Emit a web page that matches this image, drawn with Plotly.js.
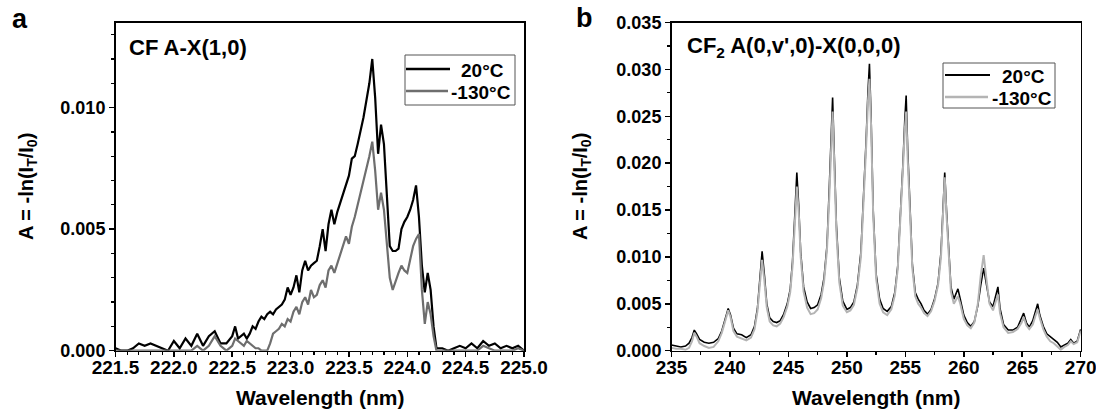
<!DOCTYPE html>
<html>
<head>
<meta charset="utf-8">
<script src="https://cdn.plot.ly/plotly-3.0.1.min.js"></script>
<style>html,body{margin:0;padding:0;background:#fff}#chart{width:1096px;height:416px}</style>
</head>
<body>
<div id="chart"></div>
<script>
// ---------- Panel a: CF A-X(1,0) ----------
const xA = [
221.50,221.55,221.60,221.65,221.70,221.75,221.80,221.85,221.90,221.95,
222.00,222.05,222.10,222.15,222.20,222.25,222.30,222.35,222.40,222.45,
222.50,222.525,222.55,222.60,222.625,222.65,222.675,222.70,222.725,222.75,
222.775,222.80,222.825,222.85,222.875,222.90,222.925,222.95,222.975,223.00,
223.025,223.05,223.075,223.10,223.125,223.15,223.175,223.20,223.225,223.25,
223.275,223.30,223.325,223.35,223.375,223.40,223.425,223.45,223.475,223.50,
223.525,223.55,223.575,223.60,223.625,223.65,223.675,223.70,223.725,223.75,
223.775,223.80,223.825,223.85,223.875,223.90,223.925,223.95,223.975,224.00,
224.025,224.05,224.075,224.10,224.125,224.15,224.175,224.20,224.225,224.25,
224.30,224.35,224.40,224.45,224.50,224.55,224.60,224.65,224.70,224.75,
224.80,224.85,224.90,224.95,225.00];
const a20 = [
0.0001,0,0,0.0001,0.0003,0.0002,0.0003,0.0002,0.0001,0,
0.0004,0.0001,0.0005,0.0002,0.0007,0.0002,0.0006,0.0008,0.0003,0.0003,
0.0006,0.0010,0.0005,0.0007,0.0005,0.0007,0.0010,0.0009,0.0012,0.0014,
0.0013,0.0015,0.0016,0.0015,0.0017,0.0018,0.0019,0.0021,0.0026,0.0023,
0.0026,0.0031,0.0024,0.0033,0.0037,0.0033,0.0035,0.0036,0.0037,0.0043,
0.0050,0.0041,0.0052,0.0058,0.0052,0.0057,0.0061,0.0065,0.0069,0.0072,
0.0079,0.0080,0.0085,0.0090,0.0096,0.0103,0.0110,0.0120,0.0104,0.0081,
0.0093,0.0085,0.0062,0.0043,0.0041,0.0041,0.0042,0.0050,0.0053,0.0055,
0.0058,0.0062,0.0068,0.0055,0.0035,0.0024,0.0032,0.0025,0.0010,0.0001,
0.0001,0,0.0001,0.0002,0.0001,0.0003,0.0001,0.0004,0.0002,0.0003,
0.0001,0.0002,0.0001,0.0002,0];
const a130 = [
0,0,0,0,0,0,0,0,0,0,
0,0,0,0,0.0002,0,0.0002,0.0006,0.0002,0,
0.0002,0.0005,0.0004,0.0002,0.0004,0.0003,0.0002,0.0001,0.0001,0,
0,0,0.0003,0.0007,0.0008,0.0009,0.0011,0.0010,0.0013,0.0012,
0.0016,0.0018,0.0015,0.0020,0.0022,0.0019,0.0025,0.0022,0.0023,0.0027,
0.0029,0.0026,0.0033,0.0035,0.0032,0.0036,0.0039,0.0043,0.0047,0.0044,
0.0051,0.0055,0.0060,0.0064,0.0070,0.0075,0.0080,0.0086,0.0074,0.0058,
0.0065,0.0058,0.0045,0.0030,0.0025,0.0029,0.0032,0.0035,0.0033,0.0032,
0.0038,0.0043,0.0046,0.0048,0.0025,0.0011,0.0020,0.0015,0.0006,0,
0,0,0,0,0,0,0,0.0002,0.0001,0,
0,0,0,0.0001,0];

// ---------- Panel b: CF2 A(0,v',0)-X(0,0,0) ----------
const xB = [
235.0,235.4,235.8,236.2,236.5,236.75,236.95,237.15,237.4,237.8,
238.2,238.6,239.0,239.3,239.6,239.85,240.05,240.3,240.6,241.0,
241.4,241.8,242.1,242.35,242.55,242.75,242.95,243.15,243.4,243.7,
244.0,244.3,244.6,244.9,245.15,245.35,245.55,245.72,245.88,246.05,
246.3,246.6,246.9,247.2,247.5,247.8,248.05,248.3,248.5,248.65,
248.78,248.92,249.1,249.35,249.65,250.0,250.3,250.6,250.9,251.2,
251.45,251.65,251.8,251.93,252.07,252.25,252.5,252.8,253.1,253.45,
253.8,254.1,254.35,254.6,254.8,254.95,255.07,255.2,255.38,255.6,
255.85,256.1,256.35,256.6,256.9,257.2,257.5,257.8,258.05,258.22,
258.37,258.52,258.7,258.9,259.15,259.35,259.5,259.7,260.0,260.3,
260.6,260.9,261.2,261.45,261.7,261.95,262.2,262.5,262.75,262.92,
263.1,263.4,263.8,264.2,264.6,264.95,265.12,265.35,265.6,265.9,
266.15,266.32,266.5,266.8,267.1,267.4,267.7,268.0,268.3,268.6,
268.9,269.15,269.4,269.7,269.9,270.0];
const b20 = [
0.0006,0.0005,0.0004,0.0005,0.0008,0.0014,0.0022,0.0018,0.0012,0.0009,
0.0008,0.0009,0.0013,0.0021,0.0034,0.0045,0.0038,0.0024,0.0018,0.0017,
0.0014,0.0017,0.0026,0.0045,0.0075,0.0106,0.0080,0.0050,0.0035,0.0031,
0.0030,0.0032,0.0039,0.0050,0.0065,0.0095,0.0145,0.0190,0.0155,0.0105,
0.0068,0.0052,0.0045,0.0046,0.0049,0.0060,0.0078,0.0112,0.0175,0.0230,
0.0270,0.0210,0.0135,0.0078,0.0053,0.0044,0.0046,0.0052,0.0070,0.0105,
0.0165,0.0225,0.0275,0.0306,0.0250,0.0150,0.0082,0.0055,0.0045,0.0042,
0.0047,0.0062,0.0090,0.0145,0.0200,0.0245,0.0272,0.0215,0.0150,0.0092,
0.0062,0.0055,0.0050,0.0043,0.0039,0.0044,0.0055,0.0072,0.0105,0.0155,
0.0190,0.0150,0.0105,0.0068,0.0055,0.0062,0.0066,0.0055,0.0038,0.0030,
0.0026,0.0031,0.0048,0.0070,0.0088,0.0070,0.0052,0.0047,0.0058,0.0068,
0.0045,0.0028,0.0022,0.0022,0.0025,0.0034,0.0040,0.0030,0.0025,0.0032,
0.0043,0.0050,0.0038,0.0026,0.0018,0.0015,0.0013,0.0009,0.0004,0.0006,
0.0008,0.0012,0.0008,0.0010,0.0018,0.0023];
const b130 = [
0.0003,0.0002,0.0002,0.0001,0.0003,0.0010,0.0019,0.0015,0.0008,0.0005,
0.0003,0.0004,0.0010,0.0019,0.0032,0.0043,0.0036,0.0021,0.0015,0.0013,
0.0011,0.0014,0.0023,0.0042,0.0070,0.0097,0.0074,0.0046,0.0031,0.0027,
0.0026,0.0029,0.0036,0.0047,0.0062,0.0090,0.0135,0.0175,0.0148,0.0100,
0.0063,0.0046,0.0039,0.0040,0.0044,0.0056,0.0074,0.0108,0.0165,0.0220,
0.0255,0.0200,0.0128,0.0073,0.0048,0.0041,0.0043,0.0049,0.0067,0.0100,
0.0158,0.0218,0.0265,0.0290,0.0240,0.0145,0.0077,0.0050,0.0041,0.0038,
0.0044,0.0059,0.0087,0.0140,0.0195,0.0235,0.0255,0.0205,0.0145,0.0088,
0.0058,0.0050,0.0046,0.0040,0.0037,0.0042,0.0053,0.0070,0.0100,0.0150,
0.0185,0.0145,0.0100,0.0063,0.0050,0.0055,0.0058,0.0050,0.0034,0.0027,
0.0024,0.0030,0.0050,0.0080,0.0102,0.0075,0.0050,0.0043,0.0052,0.0060,
0.0040,0.0025,0.0019,0.0020,0.0023,0.0030,0.0036,0.0027,0.0023,0.0028,
0.0038,0.0044,0.0035,0.0023,0.0015,0.0010,0.0008,0.0005,0.0001,0.0004,
0.0006,0.0010,0.0007,0.0009,0.0016,0.0021];

const seriesNames = ['20°C', '-130°C'];
const panelTitles = ['CF A-X(1,0)', 'CF<sub>2</sub> A(0,v\',0)-X(0,0,0)'];
const panelLetters = ['a', 'b'];
const xTitle = 'Wavelength (nm)';
const yTitle = 'A = -ln(I<sub>T</sub>/I<sub>0</sub>)';

const W = 1096, H = 416;
const FONT = 'Liberation Sans, Arial, sans-serif';
const px = v => v / W, py = v => 1 - v / H;

const colA = ['#000000', '#6e6e6e'];
const colB = ['#000000', '#b4b4b4'];
const widA = [2.2, 2.2];
const widB = [1.6, 2.0];

const traces = [
  {x: xA, y: a20, name: seriesNames[0], type: 'scatter', mode: 'lines', xaxis: 'x', yaxis: 'y', showlegend: false,
   line: {color: colA[0], width: widA[0]}},
  {x: xA, y: a130, name: seriesNames[1], type: 'scatter', mode: 'lines', xaxis: 'x', yaxis: 'y', showlegend: false,
   line: {color: colA[1], width: widA[1]}},
  {x: xB, y: b20, name: seriesNames[0], type: 'scatter', mode: 'lines', xaxis: 'x2', yaxis: 'y2', showlegend: false,
   line: {color: colB[0], width: widB[0]}},
  {x: xB, y: b130, name: seriesNames[1], type: 'scatter', mode: 'lines', xaxis: 'x2', yaxis: 'y2', showlegend: false,
   line: {color: colB[1], width: widB[1]}}
];

const xTickFont = {family: FONT, size: 19, color: '#000', weight: 'bold'};
const yTickFont = {family: FONT, size: 18, color: '#000', weight: 'bold'};
const domA = [px(115.5), px(524)];
const domB = [px(671.5), px(1080.7)];
const domY = [py(350.7), py(22.5)];

function baseAxis(extra) {
  return Object.assign({
    showgrid: false, zeroline: false, showline: true, linecolor: '#000', linewidth: 1.5,
    mirror: true, ticks: 'outside', ticklen: 5, tickwidth: 1.5, tickcolor: '#000', fixedrange: true,
    ticklabeloverflow: 'allow'
  }, extra);
}
function mirrorAxis(extra) {
  return Object.assign({
    showgrid: false, zeroline: false, showline: false, ticks: 'inside', ticklen: 5, tickwidth: 1.5,
    tickcolor: '#000', showticklabels: false, fixedrange: true
  }, extra);
}
const minorOut = d => ({dtick: d, ticks: 'outside', ticklen: 3, tickwidth: 1.2, tickcolor: '#000'});
const minorIn = d => ({dtick: d, ticks: 'inside', ticklen: 3, tickwidth: 1.2, tickcolor: '#000'});

// manual legend boxes (pixel geometry -> paper)
function legendParts(box, rows, cols, widths) {
  const shapes = [{type: 'rect', xref: 'paper', yref: 'paper', layer: 'above',
    x0: px(box.x0), x1: px(box.x1), y0: py(box.y1), y1: py(box.y0),
    line: {color: '#555', width: 1}, fillcolor: '#fff'}];
  const anns = [];
  rows.forEach((r, i) => {
    shapes.push({type: 'line', xref: 'paper', yref: 'paper', layer: 'above',
      x0: px(r.l0), x1: px(r.l1), y0: py(r.y), y1: py(r.y), line: {color: cols[i], width: widths[i] + 0.4}});
    anns.push({text: seriesNames[i], xref: 'paper', yref: 'paper', x: px(r.tx), y: py(r.y + 1),
      xanchor: 'right', yanchor: 'middle', showarrow: false,
      font: {family: FONT, size: 19, color: '#000', weight: 'bold'}});
  });
  return {shapes, anns};
}
const legA = legendParts({x0: 405, x1: 515, y0: 55, y1: 105},
  [{l0: 406, l1: 450, y: 69, tx: 506}, {l0: 406, l1: 448, y: 91, tx: 513}], colA, widA);
const legB = legendParts({x0: 943, x1: 1055, y0: 63, y1: 108},
  [{l0: 945, l1: 990, y: 75, tx: 1047}, {l0: 945, l1: 988, y: 97, tx: 1054}], colB, widB);

const textAnn = (text, x, y, size, extra) => Object.assign({text, xref: 'paper', yref: 'paper', x: px(x), y: py(y),
  xanchor: 'center', yanchor: 'middle', showarrow: false, font: {family: FONT, size, color: '#000', weight: 'bold'}}, extra || {});

const layout = {
  width: W, height: H,
  margin: {l: 0, r: 0, t: 0, b: 0},
  paper_bgcolor: '#fff', plot_bgcolor: '#fff',
  font: {family: FONT, color: '#000'},
  showlegend: false,
  xaxis: baseAxis({domain: domA, anchor: 'y', range: [221.5, 225], tick0: 221.5, dtick: 0.5, tickformat: '.1f',
    tickfont: xTickFont, ticklabelstandoff: -6, minor: minorOut(0.1)}),
  yaxis: baseAxis({domain: domY, anchor: 'x', range: [0, 0.0135], tick0: 0, dtick: 0.005, tickformat: '.3f',
    tickfont: yTickFont, minor: minorOut(0.001)}),
  xaxis3: mirrorAxis({overlaying: 'x', anchor: 'y', side: 'top', range: [221.5, 225], tick0: 221.5, dtick: 0.5,
    minor: minorIn(0.1)}),
  yaxis3: mirrorAxis({overlaying: 'y', anchor: 'x', side: 'right', range: [0, 0.0135], tick0: 0, dtick: 0.005,
    minor: minorIn(0.001)}),
  xaxis2: baseAxis({domain: domB, anchor: 'y2', range: [235, 270], tick0: 235, dtick: 5,
    tickfont: xTickFont, ticklabelstandoff: -6, minor: minorOut(2.5)}),
  yaxis2: baseAxis({domain: domY, anchor: 'x2', range: [0, 0.035], tick0: 0, dtick: 0.005, tickformat: '.3f',
    tickfont: yTickFont, minor: minorOut(0.0025)}),
  xaxis4: mirrorAxis({overlaying: 'x2', anchor: 'y2', side: 'top', range: [235, 270], tick0: 235, dtick: 5,
    minor: minorIn(2.5)}),
  yaxis4: mirrorAxis({overlaying: 'y2', anchor: 'x2', side: 'right', range: [0, 0.035], tick0: 0, dtick: 0.005,
    minor: minorIn(0.0025)}),
  shapes: [...legA.shapes, ...legB.shapes],
  annotations: [
    textAnn(panelLetters[0], 20, 19, 27),
    textAnn(panelLetters[1], 584, 18, 27),
    textAnn(panelTitles[0], 127, 47, 22, {xanchor: 'left'}),
    textAnn(panelTitles[1], 685, 47, 22, {xanchor: 'left'}),
    textAnn(xTitle, 320, 397, 21),
    textAnn(xTitle, 876, 397, 21),
    textAnn(yTitle, 27, 187, 20, {textangle: -90}),
    textAnn(yTitle, 581, 187, 20, {textangle: -90}),
    ...legA.anns, ...legB.anns
  ]
};

Plotly.newPlot('chart', traces, layout, {displayModeBar: false, staticPlot: true});
</script>
</body>
</html>
